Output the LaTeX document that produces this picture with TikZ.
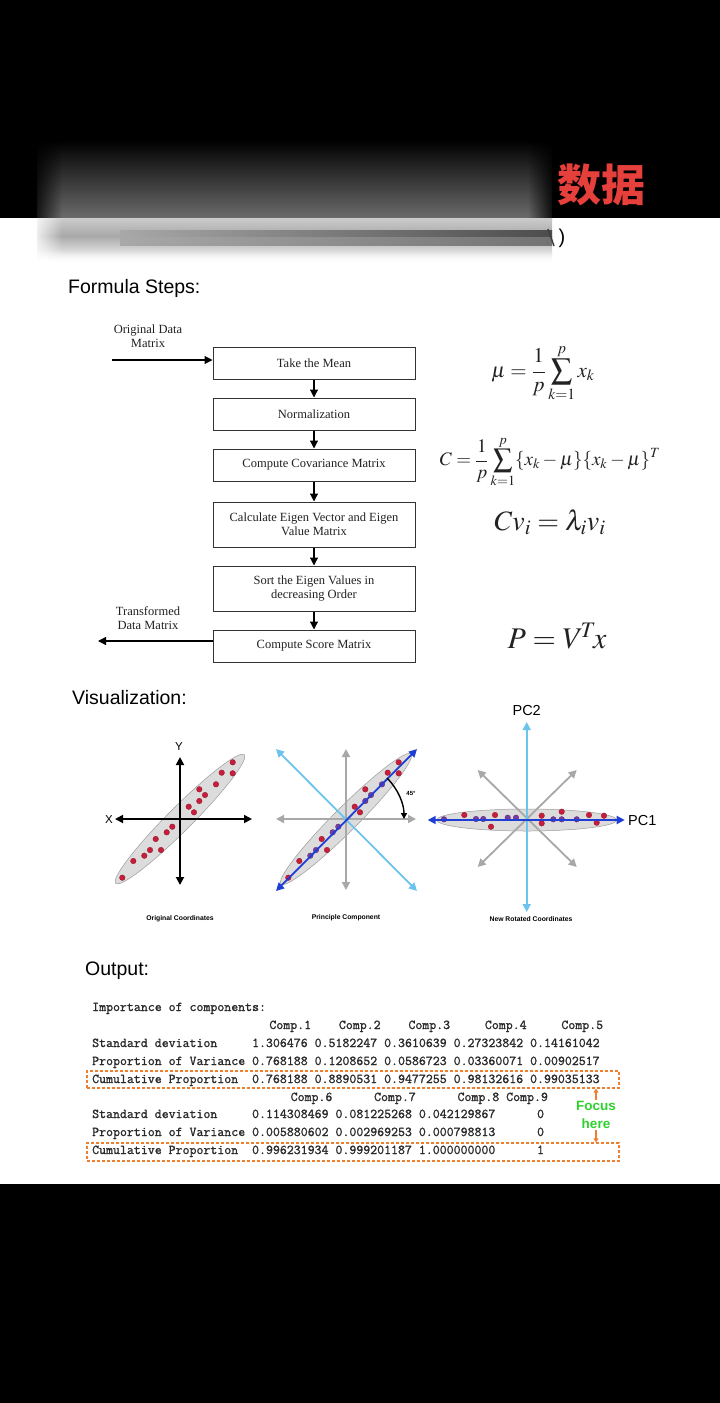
\documentclass[tikz,border=0pt]{standalone}
\usepackage{mathptmx}
\usepackage{fontspec}
\setmainfont{Liberation Serif}
\setsansfont{Liberation Sans}
\newfontfamily\cjkfont{Noto Sans CJK SC}
\newfontfamily\codefont{Latin Modern Mono}[FakeBold=1.2]
\usepackage{tikz}
\usetikzlibrary{positioning,arrows.meta,fadings}
\definecolor{titlered}{HTML}{E5403C}
\definecolor{boxline}{HTML}{333333}
\definecolor{boxtext}{HTML}{222222}
\definecolor{axgray}{HTML}{A8A8A8}
\definecolor{skyblue}{HTML}{6CC3EE}
\definecolor{pcblue}{HTML}{1F3FD4}
\definecolor{cloudfill}{HTML}{DCDCDC}
\definecolor{cloudedge}{HTML}{9C9C9C}
\definecolor{dotred}{HTML}{C81D3B}
\definecolor{dotpurple}{HTML}{7B3A9E}
\definecolor{codeink}{HTML}{2A2A2A}
\definecolor{focusorange}{HTML}{EE7F2E}
\definecolor{focusgreen}{HTML}{2ED12E}

% sample points round the centre of a panel
\newcommand{\diagdots}{52.7/-56.7/dotred, 52.7/-45.7/dotred, 41.7/-46.3/dotred,
  36/-34.7/dotpurple, 19.3/-29.7/dotred, 25/-24/dotpurple, 19.3/-18/dotpurple,
  8.7/-12.3/dotred, 14/-6.7/dotred, -7.7/7.7/dotpurple, -13.3/13.3/dotpurple,
  -24.3/20/dotred, -19/31/dotred, -30/31/dotpurple, -35.7/36.7/dotpurple,
  -46.7/42/dotred, -57.7/58.7/dotred}
\newcommand{\flatdots}{-82.7/-0.7/dotpurple, -62.4/-5/dotred, -50.7/-1/dotpurple,
  -43.4/-1/dotpurple, -31.7/-5/dotred, -35.7/6.7/dotred, -19/-2.3/dotpurple,
  -10.7/-2.3/dotpurple, 15/-4.3/dotred, 15/3.3/dotred, 26.6/-0.7/dotpurple,
  35/-8.3/dotred, 35/-0.7/dotpurple, 50/-0.7/dotpurple, 62.3/-5/dotred,
  70/2.7/dotred, 77.3/-4.3/dotred}

\begin{document}
\begin{tikzpicture}[x=1pt, y=-1pt,
  stepbox/.style={draw=boxline, line width=1pt, minimum width=202pt, minimum height=32pt,
                  align=center, text=boxtext, inner sep=2pt,
                  font=\fontsize{12.5}{14.5}\selectfont},
  tallbox/.style={stepbox, minimum height=45pt},
  flow/.style={draw=black, line width=1.2pt, -{Triangle[length=8pt,width=8pt]}},
  side/.style={align=center, text=boxtext, inner sep=0pt,
               font=\fontsize{12.5}{14.5}\selectfont},
  frm/.style={inner sep=0pt, text=boxtext},
  head/.style={anchor=base west, inner sep=0pt, font=\sffamily\fontsize{19.5}{22}\selectfont},
  cloud/.style={fill=cloudfill, draw=cloudedge, line width=0.5pt},
  tip/.style={{Triangle[length=8pt,width=8pt]}-{Triangle[length=8pt,width=8pt]}, line width=1.8pt},
  axlbl/.style={inner sep=0pt, font=\sffamily\fontsize{11.5}{13}\selectfont},
  pclbl/.style={inner sep=0pt, font=\sffamily\fontsize{14.5}{16}\selectfont},
  caplbl/.style={inner sep=0pt, font=\sffamily\bfseries\fontsize{6.8}{8}\selectfont},
  code/.style={anchor=base west, inner sep=0pt, text=codeink,
               font=\codefont\fontsize{13.5}{16}\selectfont},
  focusbox/.style={draw=focusorange, line width=1.3pt, dash pattern=on 3pt off 2pt,
                   minimum width=532pt, inner sep=0pt},
  farr/.style={draw=focusorange, line width=1.2pt, -{Triangle[length=4pt,width=5pt]}}
]
  \useasboundingbox (0,0) rectangle (720,1403);
  \fill[black] (0,0) rectangle (720,218);
  \fill[white] (0,218) rectangle (720,1184);
  \fill[black] (0,1184) rectangle (720,1403);

  % blurred title strip
  \shade[top color=black, bottom color=black!58] (37,140) rectangle (552,218);
  \shade[top color=black!20, bottom color=black!34] (37,218) rectangle (552,236);
  \shade[top color=black!34, bottom color=white] (37,236) rectangle (552,262);
  \shade[left color=black!34, right color=black!70] (120,230) rectangle (552,237);
  \shade[left color=black!34, right color=black!55] (120,237) rectangle (552,245);
  \fill[black, path fading=east] (30,140) rectangle (62,218);
  \fill[black, path fading=west] (528,140) rectangle (556,218);
  \fill[white, path fading=east] (30,218) rectangle (62,264);
  \fill[white, path fading=north] (30,250) rectangle (556,264);
  \draw[black!75, line width=1.5pt] (548,229) -- (554,246);
  \node[inner sep=0pt, text=titlered, font=\cjkfont\bfseries\fontsize{44}{48}\selectfont]
    (title) at (601,185) {数据};
  \node[inner sep=0pt, font=\sffamily\fontsize{20}{22}\selectfont] (paren) at (562,238) {)};

  \node[head] (hsteps) at (68,293) {Formula Steps:};

  % flow of steps
  \node[stepbox] (mean) at (314,363) {Take the Mean};
  \node[stepbox, below=18pt of mean] (norm) {Normalization};
  \node[stepbox, below=18pt of norm] (cov) {Compute Covariance Matrix};
  \node[tallbox, below=20pt of cov] (eig) {Calculate Eigen Vector and Eigen\\Value Matrix};
  \node[tallbox, below=18pt of eig] (sort) {Sort the Eigen Values in\\decreasing Order};
  \node[stepbox, below=18pt of sort] (score) {Compute Score Matrix};

  \draw[flow] (mean) -- (norm);
  \draw[flow] (norm) -- (cov);
  \draw[flow] (cov) -- (eig);
  \draw[flow] (eig) -- (sort);
  \draw[flow] (sort) -- (score);

  \node[side] (inlbl) at (148,336) {Original Data\\Matrix};
  \coordinate (inp) at (112,360);
  \draw[flow] (inp) -- (inp -| mean.west);
  \node[side] (outlbl) at (148,618) {Transformed\\Data Matrix};
  \coordinate (outp) at (98,641);
  \draw[flow] (score.west |- outp) -- (outp);

  \node[frm, font=\fontsize{21}{25}\selectfont] (fmean) at (543,373)
    {$\displaystyle \mu=\frac{1}{p}\sum_{k=1}^{p}x_k$};
  \node[frm, font=\fontsize{19}{23}\selectfont] (fcov) at (550,462)
    {$\displaystyle C=\frac{1}{p}\sum_{k=1}^{p}\{x_k-\mu\}\{x_k-\mu\}^T$};
  \node[frm, font=\fontsize{28}{32}\selectfont] (feig) at (550,522) {$Cv_i=\lambda_i v_i$};
  \node[frm, font=\fontsize{30}{34}\selectfont] (fscore) at (557,636) {$P=V^{\!T}\!x$};

  \node[head] (hvis) at (72,704) {Visualization:};

  % original coordinates
  \begin{scope}[shift={(180,819)}]
    \filldraw[cloud, rotate=45] (0,0) ellipse [x radius=91, y radius=12];
    \draw[tip, black] (-65,0) -- (72,0);
    \draw[tip, black] (0,-62) -- (0,66);
    \foreach \dx/\dy/\c in \diagdots
      \filldraw[fill=dotred, draw=dotred!70!black, line width=0.3pt] (\dx,\dy) circle [radius=2.8];
  \end{scope}
  \node[axlbl] (xlbl) at (109,820) {X};
  \node[axlbl] (ylbl) at (179,747) {Y};
  \node[caplbl] (cap1) at (180,919) {Original Coordinates};

  % principal component
  \begin{scope}[shift={(346,819)}]
    \filldraw[cloud, rotate=45] (0,0) ellipse [x radius=92, y radius=12];
    \draw[tip, axgray] (-70,0) -- (70,0);
    \draw[tip, axgray] (0,-70) -- (0,71);
    \draw[tip, skyblue] (-70,-70) -- (71,72);
    \foreach \dx/\dy/\c in \diagdots
      \filldraw[fill=\c, draw=\c!70!black, line width=0.3pt] (\dx,\dy) circle [radius=2.8];
    \draw[tip, pcblue] (-70,72) -- (71,-70);
    \draw[line width=1.4pt, -{Triangle[length=6pt,width=6pt]}]
      (-45:58) arc [start angle=-45, end angle=0, radius=58];
  \end{scope}
  \node[caplbl, font=\sffamily\bfseries\fontsize{6}{7}\selectfont] (angle) at (411,793) {45°};
  \node[caplbl] (cap2) at (346,918) {Principle Component};

  % rotated coordinates
  \begin{scope}[shift={(526.7,820)}]
    \filldraw[cloud] (0,0) ellipse [x radius=90, y radius=11];
    \draw[tip, axgray] (-49,-50) -- (50,47);
    \draw[tip, axgray] (50,-50) -- (-49,47);
    \draw[tip, skyblue] (0,-98) -- (0,92);
    \foreach \dx/\dy/\c in \flatdots
      \filldraw[fill=\c, draw=\c!70!black, line width=0.3pt] (\dx,\dy) circle [radius=2.8];
    \draw[tip, pcblue] (-99,0) -- (98,0);
  \end{scope}
  \node[pclbl, anchor=west] (pc1) at (628,820) {PC1};
  \node[pclbl] (pc2) at (526.7,710.7) {PC2};
  \node[caplbl] (cap3) at (531,919) {New Rotated Coordinates};

  \node[head] (hout) at (85,975) {Output:};

  % summary printout
  \node[code] (r0) at (92,1011) {Importance~of~components:};
  \node[code] (r1) at (269.2,1029) {Comp.1~~~~Comp.2~~~~Comp.3~~~~~Comp.4~~~~~Comp.5};
  \node[code] (r2) at (92,1047) {Standard~deviation~~~~~1.306476~0.5182247~0.3610639~0.27323842~0.14161042};
  \node[code] (r3) at (92,1065) {Proportion~of~Variance~0.768188~0.1208652~0.0586723~0.03360071~0.00902517};
  \node[code] (r4) at (92,1083) {Cumulative~Proportion~~0.768188~0.8890531~0.9477255~0.98132616~0.99035133};
  \node[code] (r5) at (290.5,1101) {Comp.6~~~~~~Comp.7~~~~~~Comp.8~Comp.9};
  \node[code] (r6) at (92,1118) {Standard~deviation~~~~~0.114308469~0.081225268~0.042129867~~~~~~0};
  \node[code] (r7) at (92,1136) {Proportion~of~Variance~0.005880602~0.002969253~0.000798813~~~~~~0};
  \node[code] (r8) at (92,1154) {Cumulative~Proportion~~0.996231934~0.999201187~1.000000000~~~~~~1};

  \node[focusbox, minimum height=17pt] (cum1) at (353,1079.5) {};
  \node[focusbox, minimum height=18pt] (cum2) at (353,1152) {};
  \node[align=center, inner sep=1pt, text=focusgreen,
        font=\sffamily\bfseries\fontsize{13.5}{18}\selectfont] (focus) at (596,1115) {Focus\\here};
  \draw[farr] (focus.north) -- (focus.north |- cum1.south);
  \draw[farr] (focus.south) -- (focus.south |- cum2.north);
\end{tikzpicture}
\end{document}
